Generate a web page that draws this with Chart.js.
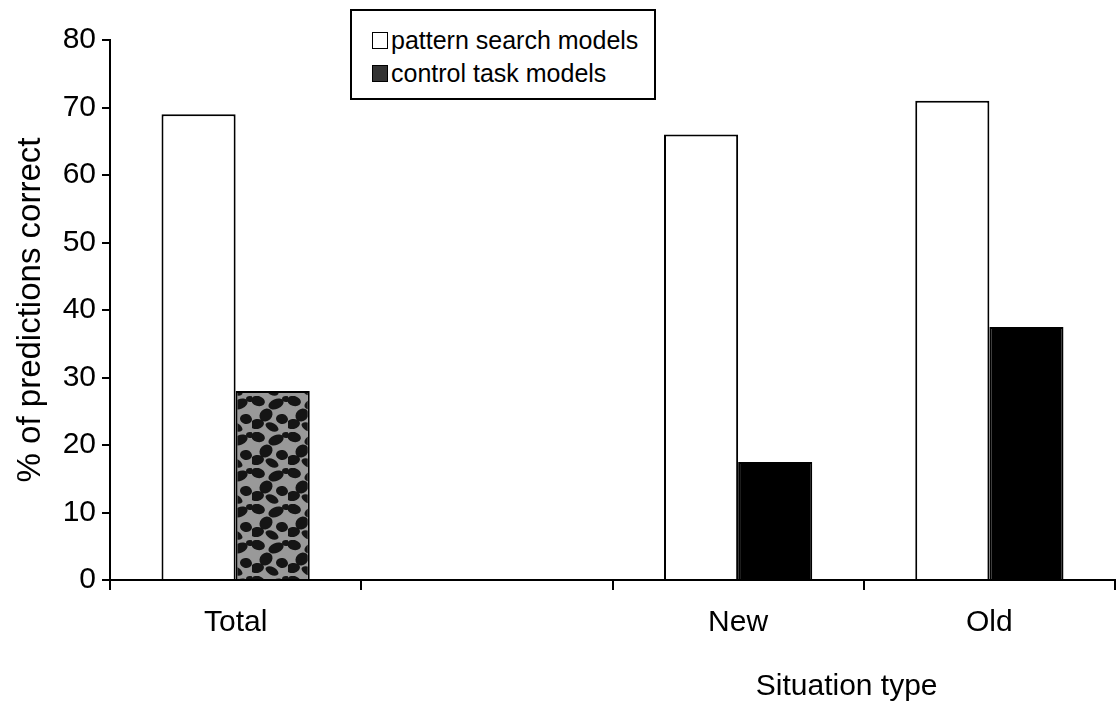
<!DOCTYPE html>
<html>
<head>
<meta charset="utf-8">
<script src="https://cdn.jsdelivr.net/npm/chart.js@4/dist/chart.umd.min.js"></script>
<style>
  html, body { margin: 0; padding: 0; background: #fff; }
  #wrap { position: relative; width: 1119px; height: 701px; }
  #legend { position: absolute; left: 350px; top: 9px; width: 306px; height: 91px;
    border: 2px solid #000; box-sizing: border-box; background: #fff;
    font-family: "Liberation Sans", Arial, sans-serif; font-size: 25px; color: #000; }
  .li { position: absolute; left: 20px; display: flex; align-items: center; line-height: 30px; }
  .sw { width: 16px; height: 17px; border: 1.5px solid #000; margin-right: 3px; box-sizing: border-box; }
</style>
</head>
<body>
<div id="wrap">
  <canvas id="c" width="1119" height="701"></canvas>
  <div id="legend"></div>
</div>
<script>
const categories = ['Total', '', 'New', 'Old'];
const patternSearch = [69, null, 66, 71];
const controlTask = [28, null, 17.5, 37.5];
const seriesNames = ['pattern search models', 'control task models'];
const yTicks = [0, 10, 20, 30, 40, 50, 60, 70, 80];

function mottled() {
  const p = document.createElement('canvas');
  p.width = 36; p.height = 36;
  const g = p.getContext('2d');
  g.fillStyle = '#999'; g.fillRect(0, 0, 36, 36);
  g.fillStyle = '#151515';
  const blobs = [[6,5,7,5,0.3],[24,8,8,5,-0.4],[14,19,6,7,0.8],[30,23,6,5,0.2],[5,28,7,5,-0.2],[20,31,7,4,0.5],[34,3,4,3,0]];
  blobs.forEach(b => { g.beginPath(); g.ellipse(b[0], b[1], b[2], b[3], b[4], 0, Math.PI*2); g.fill(); });
  return g.createPattern(p, 'repeat');
}

const FONT = '"Liberation Sans", Arial, sans-serif';
const darkColors = [mottled(), '#000', '#000', '#000'];

const xTitle = {
  id: 'xTitle',
  afterDraw(chart) {
    const ctx = chart.ctx, a = chart.chartArea;
    ctx.save();
    ctx.font = '30px ' + FONT;
    ctx.fillStyle = '#000';
    ctx.textAlign = 'center';
    ctx.textBaseline = 'middle';
    ctx.fillText('Situation type', a.left + (a.right - a.left) * 0.733, 687);
    ctx.restore();
  }
};

const chart = new Chart(document.getElementById('c'), {
  type: 'bar',
  data: {
    labels: categories,
    datasets: [
      { label: seriesNames[0], data: patternSearch, backgroundColor: '#fff', borderColor: '#000', borderWidth: 2 },
      { label: seriesNames[1], data: controlTask, backgroundColor: darkColors, borderColor: '#000', borderWidth: 2 }
    ]
  },
  options: {
    responsive: false,
    animation: false,
    devicePixelRatio: 1,
    layout: { padding: { left: 7, right: 4, top: 40, bottom: 0 } },
    datasets: { bar: { categoryPercentage: 0.59, barPercentage: 1.0 } },
    plugins: { legend: { display: false }, tooltip: { enabled: false } },
    scales: {
      x: {
        offset: true,
        grid: { offset: true, drawOnChartArea: false, tickLength: 10, color: '#000', lineWidth: 2 },
        border: { display: true, color: '#000', width: 2 },
        ticks: { font: { family: FONT, size: 30 }, color: '#000', padding: 15, maxRotation: 0 },
        afterFit(s) { s.height = 121; }
      },
      y: {
        min: 0, max: 80,
        afterBuildTicks(s) { s.ticks = yTicks.map(v => ({ value: v })); },
        grid: { drawOnChartArea: false, tickLength: 8, color: '#000', lineWidth: 2 },
        border: { display: true, color: '#000', width: 2 },
        ticks: { font: { family: FONT, size: 30 }, color: '#000', padding: 6 },
        title: { display: true, text: '% of predictions correct', font: { family: FONT, size: 33 }, color: '#000' },
        afterFit(s) { s.width = 103; }
      }
    }
  },
  plugins: [xTitle]
});

const leg = document.getElementById('legend');
chart.data.datasets.forEach((ds, i) => {
  const row = document.createElement('div');
  row.className = 'li';
  row.style.top = (i === 0 ? 14 : 47) + 'px';
  const sw = document.createElement('span');
  sw.className = 'sw';
  sw.style.background = i === 0 ? '#fff' : '#333';
  const t = document.createElement('span');
  t.textContent = ds.label;
  row.appendChild(sw); row.appendChild(t);
  leg.appendChild(row);
});
</script>
</body>
</html>
